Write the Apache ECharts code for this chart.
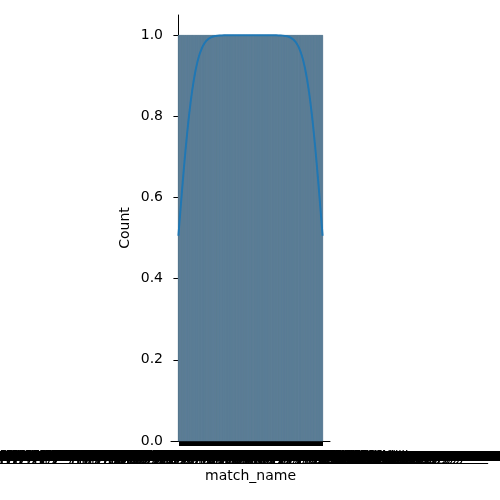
<!DOCTYPE html>
<html>
<head>
<meta charset="utf-8">
<script src="https://cdn.jsdelivr.net/npm/echarts@6/dist/echarts.min.js"></script>
<style>html,body{margin:0;padding:0;background:#fff}#c{width:500px;height:500px}</style>
</head>
<body>
<div id="c"></div>
<script>
// Team names used to build the (illegible) match_name tick labels
const homeTeams = ["Brighton_and_Hove_Albion","Wolverhampton_Wanderers","Manchester_United","Tottenham_Hotspur","Newcastle_United","Crystal_Palace","West_Ham_United","Leicester_City","Manchester_City","Sheffield_United","Aston_Villa","Norwich_City","AFC_Bournemouth","Southampton","Liverpool","Chelsea","Arsenal","Everton","Watford","Burnley"];
const awayTeams = homeTeams;
const season = "Premier_League_2019-20";
// Each match_name occurs once in the data (count = 1 for every bar)
const counts = [
1,1,1,1,1,1,1,1,1,1,1,1,1,1,1,1,1,1,1,1,
1,1,1,1,1,1,1,1,1,1,1,1,1,1,1,1,1,1,1,1,
1,1,1,1,1,1,1,1,1,1,1,1,1,1,1,1,1,1,1,1,
1,1,1,1,1,1,1,1,1,1,1,1,1,1,1,1,1,1,1,1,
1,1,1,1,1,1,1,1,1,1,1,1,1,1,1,1,1,1,1,1,
1,1,1,1,1,1,1,1,1,1,1,1,1,1,1,1,1,1,1,1,
1,1,1,1,1,1,1,1,1,1,1,1,1,1,1,1,1,1,1,1,
1,1,1,1,1,1,1,1,1,1,1,1,1,1,1,1,1,1,1,1,
1,1,1,1,1,1,1,1,1,1,1,1,1,1,1,1,1,1,1,1,
1,1,1,1,1,1,1,1,1,1,1,1,1,1,1,1,1,1,1,1,
1,1,1,1,1,1,1,1,1,1,1,1,1,1,1,1,1,1,1,1,
1,1,1,1,1,1,1,1,1,1,1,1,1,1,1,1,1,1,1,1,
1,1,1,1,1,1,1,1,1,1,1,1,1,1,1,1,1,1,1,1,
1,1,1,1,1,1,1,1,1,1,1,1,1,1,1,1,1,1,1,1,
1,1,1,1,1,1,1,1,1,1,1,1,1,1,1,1,1,1,1,1,
1,1,1,1,1,1,1,1,1,1,1,1,1,1,1,1,1,1,1,1,
1,1,1,1,1,1,1,1,1,1,1,1,1,1,1,1,1,1,1,1,
1,1,1,1,1,1,1,1,1,1,1,1,1,1,1,1,1,1,1,1,
1,1,1,1,1,1,1,1,1,1,1,1,1,1,1,1,1,1,1,1
];
const yTicks = [0, 0.2, 0.4, 0.6, 0.8, 1.0];

// Build match names (home vs away, every ordered pair)
const matchNames = [];
homeTeams.forEach(h => awayTeams.forEach(a => { if (h !== a) matchNames.push(h + "_vs_" + a + "_" + season); }));
const N = Math.min(matchNames.length, counts.length);
const positions = [];
for (let i = 0; i < N; i++) positions.push(i);

// Gaussian KDE (Scott's rule), scaled to counts like seaborn histplot(kde=True)
const n = counts.slice(0, N).reduce((s, v) => s + v, 0);
let mean = 0; for (let i = 0; i < N; i++) mean += positions[i] * counts[i]; mean /= n;
let v2 = 0; for (let i = 0; i < N; i++) v2 += counts[i] * (positions[i] - mean) ** 2; v2 /= (n - 1);
const bw = Math.sqrt(v2) * Math.pow(n, -1 / 5);
const kde = [];
const G = 200;
for (let g = 0; g < G; g++) {
  const x = positions[0] + (positions[N - 1] - positions[0]) * g / (G - 1);
  let d = 0;
  for (let i = 0; i < N; i++) { const z = (x - positions[i]) / bw; d += counts[i] * Math.exp(-0.5 * z * z); }
  d = d / (n * bw * Math.sqrt(2 * Math.PI));
  kde.push([x, d * n * 1]);
}

const barData = positions.map((p, i) => [p, counts[i]]);
const xMin = -0.5 - 0.05 * N, xMax = N - 0.5 + 0.05 * N;
const font = "DejaVu Sans";
const chart = echarts.init(document.getElementById('c'), null, { renderer: 'canvas' });
chart.setOption({
  animation: false,
  grid: { left: 171, right: 170, top: 15, bottom: 59, containLabel: false, outerBoundsMode: 'none' },
  xAxis: {
    type: 'value', min: xMin, max: xMax,
    name: 'match_name', nameLocation: 'middle', nameGap: 27,
    nameTextStyle: { fontFamily: font, fontSize: 14, color: '#000' },
    axisLine: { show: true, onZero: false, lineStyle: { color: '#000', width: 1 } },
    axisTick: { show: true, length: 5, lineStyle: { color: '#000', width: 1 }, customValues: positions },
    axisLabel: { show: true, customValues: positions, margin: 9, fontFamily: font, fontSize: 14, color: '#000', hideOverlap: false,
      formatter: v => matchNames[Math.round(v)] || '' },
    splitLine: { show: false }
  },
  yAxis: {
    type: 'value', min: 0, max: 1.05,
    name: 'Count', nameLocation: 'middle', nameGap: 39,
    nameTextStyle: { fontFamily: font, fontSize: 14, color: '#000' },
    axisLine: { show: true, lineStyle: { color: '#000', width: 1 } },
    axisTick: { show: true, length: 5, lineStyle: { color: '#000', width: 1 }, customValues: yTicks },
    axisLabel: { customValues: yTicks, margin: 8, fontFamily: font, fontSize: 14, color: '#000', formatter: v => v.toFixed(1) },
    splitLine: { show: false }
  },
  series: [
    {
      type: 'custom', data: barData, clip: false,
      renderItem: (params, api) => {
        const p0 = api.coord([api.value(0) - 0.5, 0]);
        const p1 = api.coord([api.value(0) + 0.5, api.value(1)]);
        return { type: 'rect', shape: { x: p0[0], y: p1[1], width: p1[0] - p0[0], height: p0[1] - p1[1] },
          style: { fill: '#5a7c95', stroke: '#5a7c95', lineWidth: 0.5 } };
      },
      z: 1
    },
    {
      type: 'line', data: kde, showSymbol: false, symbol: 'none', smooth: false,
      lineStyle: { color: '#1f77b4', width: 2 }, z: 3
    }
  ]
});
</script>
</body>
</html>
